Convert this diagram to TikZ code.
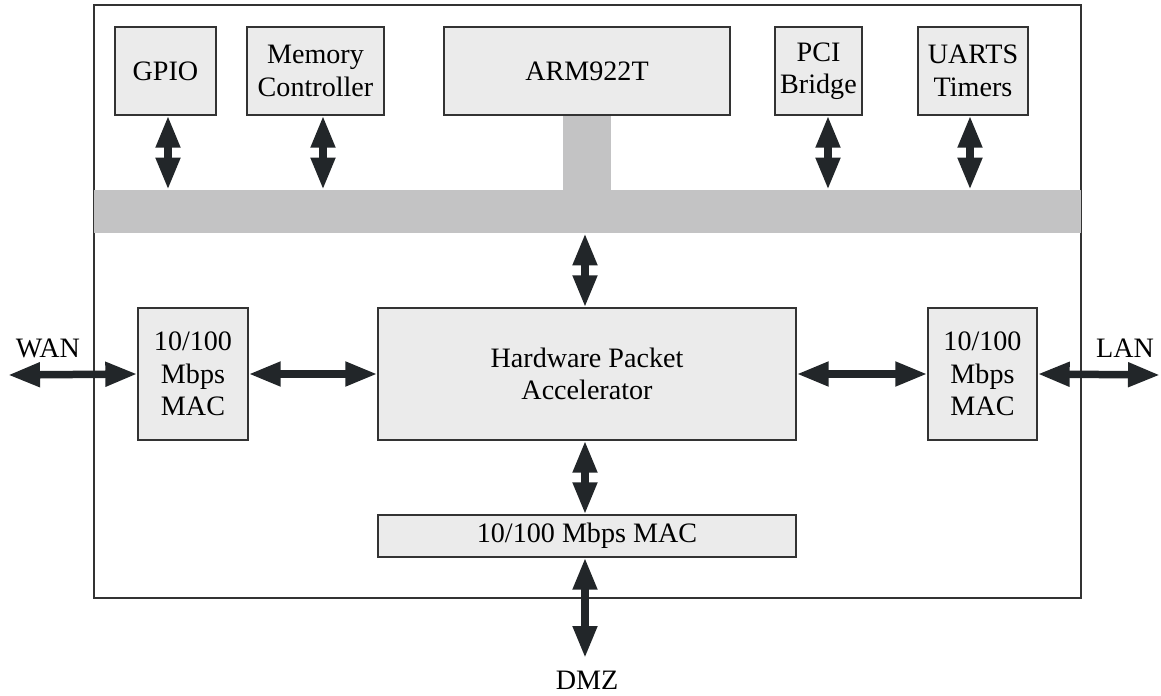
\documentclass[tikz,border=0pt]{standalone}
\usepackage{fontspec}
\setmainfont{Liberation Serif}
\newfontfamily\lblfont{Liberation Serif}
\usetikzlibrary{arrows.meta,positioning}
\definecolor{boxgray}{HTML}{EBEBEB}
\definecolor{busgray}{HTML}{C3C3C4}
\definecolor{arrowdark}{HTML}{222629}

\begin{document}
\begin{tikzpicture}[x=0.02cm,y=-0.02cm,font=\lblfont\fontsize{16}{18.5}\selectfont,
  blk/.style={draw=black!80,fill=boxgray,line width=0.8pt,inner sep=0pt,align=center},
  bus/.style={fill=busgray,inner sep=0pt},
  biarrow/.style={draw=arrowdark,line width=0.15cm,
    {Triangle[length=0.64cm,width=0.46cm]}-{Triangle[length=0.64cm,width=0.46cm]}}]
  \useasboundingbox (0,0) rectangle (1161,696);
  % chip outline
  \draw[black!80,line width=0.8pt] (94,5) rectangle (1081,598);

  % system bus
  \node[bus,minimum width=19.74cm,minimum height=0.86cm] (bus)  at (587.5,211.5) {};
  \node[bus,minimum width=0.96cm,minimum height=1.52cm]  (stub) at (587,152.5) {};

  % top row
  \node[blk,minimum width=2.02cm,minimum height=1.76cm] (gpio) at (165.5,71) {GPIO};
  \node[blk,minimum width=2.74cm,minimum height=1.76cm] (mem)  at (315.5,71) {Memory\\Controller};
  \node[blk,minimum width=5.72cm,minimum height=1.76cm] (arm)  at (587,71)   {ARM922T};
  \node[blk,minimum width=1.74cm,minimum height=1.76cm] (pci)  at (818.5,71) {PCI\\Bridge};
  \node[blk,minimum width=2.20cm,minimum height=1.76cm] (uart) at (973,71)   {UARTS\\Timers};

  % middle row
  \node[blk,minimum width=2.20cm,minimum height=2.64cm] (wmac) at (193,374)   {10/100\\Mbps\\MAC};
  \node[blk,minimum width=8.36cm,minimum height=2.64cm] (hpa)  at (587,374)   {Hardware Packet\\Accelerator};
  \node[blk,minimum width=2.18cm,minimum height=2.64cm] (lmac) at (982.5,374) {10/100\\Mbps\\MAC};
  \node[blk,minimum width=8.36cm,minimum height=0.84cm] (dmac) at (587,536)   {10/100 Mbps MAC};

  % ports
  \coordinate (wan) at (8,375);
  \coordinate (lan) at (1160,375);
  \coordinate (dmz) at (585,658);
  \node (wanl) at (48,348)  {WAN};
  \node (lanl) at (1125,348) {LAN};
  \node[inner sep=1pt] (dmzl) at (587,680) {DMZ};

  \draw[biarrow] (gpio.south -| 168,0) -- (bus.north -| 168,0);
  \draw[biarrow] (mem.south -| 323,0)  -- (bus.north -| 323,0);
  \draw[biarrow] (pci.south -| 828,0)  -- (bus.north -| 828,0);
  \draw[biarrow] (uart.south -| 970,0) -- (bus.north -| 970,0);
  \draw[biarrow] (bus.south -| 585,0)  -- (hpa.north -| 585,0);
  \draw[biarrow] (hpa.south -| 585,0)  -- (dmac.north -| 585,0);
  \draw[biarrow] (dmac.south -| 585,0) -- (dmz);
  \draw[biarrow] (wan) -- (wmac.west);
  \draw[biarrow] (wmac.east) -- (hpa.west);
  \draw[biarrow] (hpa.east) -- (lmac.west);
  \draw[biarrow] (lmac.east) -- (lan);
\end{tikzpicture}
\end{document}
